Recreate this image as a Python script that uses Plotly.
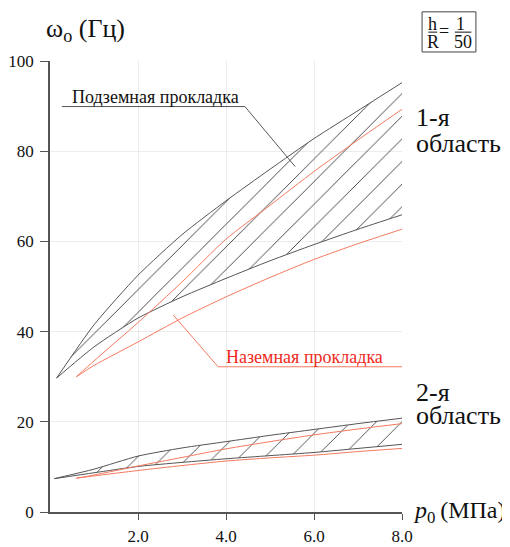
import plotly.graph_objects as go

# ---- data ----
p_grid = [0.15, 1.0, 2.0, 3.0, 4.0, 5.0, 6.0, 7.0, 8.0]
reg1_upper = [29.7, 41.5, 52.5, 61.5, 69.0, 76.0, 82.8, 89.0, 95.2]
reg1_lower = [29.7, 36.6, 43.0, 47.7, 51.8, 55.7, 59.3, 62.7, 65.9]

p_red = [0.6, 1.0, 2.0, 3.0, 4.0, 5.0, 6.0, 7.0, 8.0]
reg1_red_upper = [30.0, 33.5, 42.0, 51.0, 60.5, 68.0, 75.5, 82.5, 89.3]
reg1_red_lower = [30.0, 32.5, 37.7, 43.0, 47.7, 52.0, 56.0, 59.5, 62.7]

p_grid2 = [0.1, 1.0, 2.0, 3.0, 4.0, 5.0, 6.0, 7.0, 8.0]
reg2_upper = [7.4, 9.5, 12.4, 14.2, 15.6, 17.0, 18.3, 19.6, 20.8]
reg2_lower = [7.4, 8.7, 10.1, 11.0, 11.8, 12.5, 13.2, 14.1, 15.0]
reg2_red_upper = [7.5, 8.2, 10.2, 12.1, 14.0, 15.6, 17.1, 18.4, 19.6]
reg2_red_lower = [7.5, 8.0, 9.2, 10.3, 11.3, 12.0, 12.6, 13.4, 14.1]

x_ticks = [2, 4, 6, 8]
x_tick_labels = ["2.0", "4.0", "6.0", "8.0"]
y_ticks = [0, 20, 40, 60, 80, 100]

BLACK = "#555555"
RED = "#f47a60"
TEXT_RED = "#ee2a1e"
FONT = "Liberation Serif"

fig = go.Figure()


def band(px, lo, hi, size, solidity):
    fig.add_trace(go.Scatter(x=px, y=lo, mode="lines",
                             line=dict(color=BLACK, width=1, shape="spline", smoothing=0.6),
                             hoverinfo="skip"))
    fig.add_trace(go.Scatter(x=px, y=hi, mode="lines", fill="tonexty",
                             fillcolor="rgba(0,0,0,0)",
                             fillpattern=dict(shape="/", size=size, solidity=solidity,
                                              fgcolor="#444444", fgopacity=1,
                                              bgcolor="rgba(0,0,0,0)"),
                             line=dict(color=BLACK, width=1, shape="spline", smoothing=0.6),
                             hoverinfo="skip"))


def red(px, py):
    fig.add_trace(go.Scatter(x=px, y=py, mode="lines",
                             line=dict(color=RED, width=1, shape="spline", smoothing=0.6),
                             hoverinfo="skip"))


band(p_grid, reg1_lower, reg1_upper, 16, 0.06)
red(p_red, reg1_red_upper)
red(p_red, reg1_red_lower)
band(p_grid2, reg2_lower, reg2_upper, 18, 0.05)
red(p_red, reg2_red_upper)
red(p_red, reg2_red_lower)

# leader lines for labels
fig.add_shape(type="line", x0=0.27, y0=89.9, x1=4.43, y1=89.9, line=dict(color=BLACK, width=1))
fig.add_shape(type="line", x0=4.43, y0=89.9, x1=5.57, y1=76.6, line=dict(color=BLACK, width=1))
fig.add_annotation(x=0.45, y=89.9, text="Подземная прокладка", showarrow=False,
                   xanchor="left", yanchor="bottom", yshift=-2,
                   font=dict(family=FONT, size=18, color="#111111"))

fig.add_shape(type="line", x0=3.82, y0=32.2, x1=8.0, y1=32.2, line=dict(color=RED, width=1))
fig.add_shape(type="line", x0=3.82, y0=32.2, x1=2.80, y1=43.7, line=dict(color=RED, width=1))
fig.add_annotation(x=3.95, y=32.2, text="Наземная прокладка", showarrow=False,
                   xanchor="left", yanchor="bottom", yshift=-2,
                   font=dict(family=FONT, size=18, color=TEXT_RED))

# region labels (one annotation per line, tight spacing as in the reference)
for txt, yy in [("1-я", 87.4), ("область", 81.7), ("2-я", 26.6), ("область", 21.3)]:
    fig.add_annotation(xref="paper", x=1.033, y=yy, text=txt, showarrow=False,
                       xanchor="left", yanchor="middle", align="left",
                       font=dict(family=FONT, size=26, color="#111111"))

# axis titles
fig.add_annotation(xref="paper", yref="paper", x=-0.018, y=1.069, text="ω<sub>o</sub> (Гц)",
                   showarrow=False, xanchor="left", yanchor="middle",
                   font=dict(family=FONT, size=26, color="#111111"))
fig.add_annotation(xref="paper", yref="paper", x=1.025, y=0.0,
                   text="<i>p</i><sub>0</sub>\u2009(МПа)",
                   showarrow=False, xanchor="left", yanchor="middle",
                   font=dict(family=FONT, size=24, color="#111111"))

# h/R box
fig.add_shape(type="rect", xref="paper", yref="paper", x0=1.057, x1=1.210, y0=1.020, y1=1.109,
              line=dict(color="#444444", width=1))
for txt, xx, yy in [("h", 1.086, 1.083), ("R", 1.088, 1.043), ("=", 1.118, 1.066),
                    ("1", 1.166, 1.083), ("50", 1.172, 1.043)]:
    fig.add_annotation(xref="paper", yref="paper", x=xx, y=yy, text=txt, showarrow=False,
                       xanchor="center", yanchor="middle", borderpad=0,
                       font=dict(family=FONT, size=18, color="#111111"))
fig.add_shape(type="line", xref="paper", yref="paper", x0=1.075, x1=1.100, y0=1.064, y1=1.064,
              line=dict(color="#111111", width=1))
fig.add_shape(type="line", xref="paper", yref="paper", x0=1.150, x1=1.197, y0=1.064, y1=1.064,
              line=dict(color="#111111", width=1))

# page body has an 8px margin: size & margins compensate so the plot area lands
# at x 50..402, y 61..512 of the 510x547 window
fig.update_layout(
    width=502, height=539,
    margin=dict(l=42, r=108, t=53, b=35),
    paper_bgcolor="white", plot_bgcolor="white",
    showlegend=False,
    font=dict(family=FONT, color="#111111"),
)
fig.update_xaxes(range=[0, 8], tickvals=x_ticks, ticktext=x_tick_labels,
                 showgrid=True, gridcolor="#ececec", gridwidth=1,
                 showline=True, linecolor=BLACK, linewidth=1.5,
                 ticks="outside", ticklen=6, tickcolor=BLACK, automargin=False,
                 ticklabelstandoff=2,
                 tickfont=dict(family=FONT, size=17, color="#111111"), zeroline=False)
fig.update_yaxes(range=[0, 100], tickvals=y_ticks,
                 showgrid=True, gridcolor="#ececec", gridwidth=1,
                 showline=True, linecolor=BLACK, linewidth=1.5,
                 ticks="outside", ticklen=8, tickcolor=BLACK, automargin=False,
                 ticklabelstandoff=3,
                 tickfont=dict(family=FONT, size=17, color="#111111"), zeroline=False)

fig.write_html("out.html")
